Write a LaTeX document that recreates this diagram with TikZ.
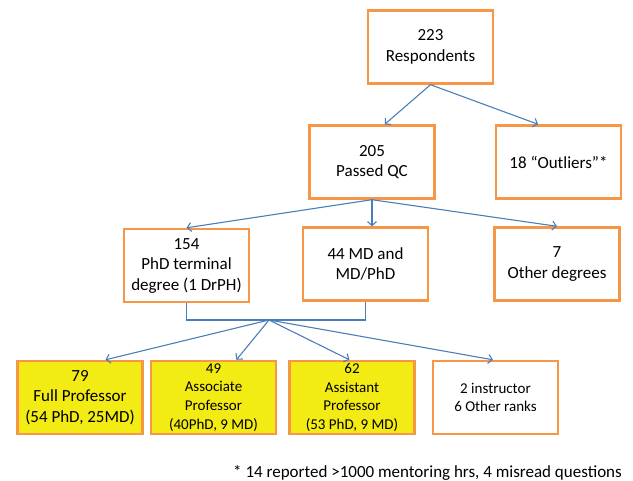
\documentclass[tikz,border=0pt]{standalone}
\usepackage{fontspec}
\setmainfont{Carlito}
\usetikzlibrary{arrows.meta,positioning,calc}
\definecolor{boxorange}{HTML}{F79646}
\definecolor{flowblue}{HTML}{4A7EBB}
\definecolor{rankyellow}{HTML}{F2EB14}
\tikzset{
  >={Straight Barb[length=4pt,width=9pt]},
  % rutor
  bx/.style={draw=boxorange,fill=white,line width=2.4pt,inner sep=0pt,
             minimum width=125pt,minimum height=73pt,align=center,
             font=\fontsize{17}{20.5}\selectfont},
  bxs/.style={bx,font=\fontsize{15}{18.7}\selectfont},
  rank/.style={fill=rankyellow},
  % pilar
  fa/.style={->,draw=flowblue,line width=1.1pt},
  fl/.style={draw=flowblue,line width=1.1pt},
  note/.style={font=\fontsize{17}{20}\selectfont,inner sep=0pt,anchor=west},
}

\begin{document}
\begin{tikzpicture}[x=1pt,y=-1pt]
\useasboundingbox (0,0) rectangle (633,481);
  \node[bx] (resp) at (430.5,47) {223\\Respondents};
  \node[bx] (qc) at (372,162) {205\\Passed QC};
  \node[bx] (outl) at (558.5,162) {18 “Outliers”*};
  \node[bx] (phd) at (186.5,265.5) {154\\PhD terminal\\degree (1 DrPH)};
  \node[bx] (md) at (365.5,264) {44 MD and\\MD/PhD};
  \node[bx] (other) at (557,264) {7\\Other degrees};
  \node[bx,rank] (full) at (80,397.5) {79\\Full Professor\\(54 PhD, 25MD)};
  \node[bxs,rank] (assoc) at (213.5,397.5) {49\\Associate\\Professor\\(40PhD, 9 MD)};
  \node[bxs,rank] (asst) at (352,397.5) {62\\Assistant\\Professor\\(53 PhD, 9 MD)};
  \node[bxs] (instr) at (495.5,397.5) {2 instructor\\6 Other ranks};
  \node[note] (fn) at (233,473) {* 14 reported >1000 mentoring hrs, 4 misread questions};
  \coordinate (hub) at (269,320);
  \draw[fa] (resp.south) -- ($(qc.north west)!0.6!(qc.north east)$);
  \draw[fa] (resp.south) -- ($(outl.north west)!0.34!(outl.north east)$);
  \draw[fa] (qc.south) -- (phd.north);
  \draw[fa] (qc.south) -- (qc.south |- md.north);
  \draw[fa] (qc.south) -- (other.north);
  \draw[fl] (phd.south) |- (hub) -| (md.south);
  \draw[fa] (hub) -- ($(full.north west)!0.7!(full.north east)$);
  \draw[fa] (hub) -- ($(assoc.north west)!0.68!(assoc.north east)$);
  \draw[fa] (hub) -- ($(asst.north west)!0.48!(asst.north east)$);
  \draw[fa] (hub) -- ($(instr.north west)!0.48!(instr.north east)$);
\end{tikzpicture}
\end{document}
